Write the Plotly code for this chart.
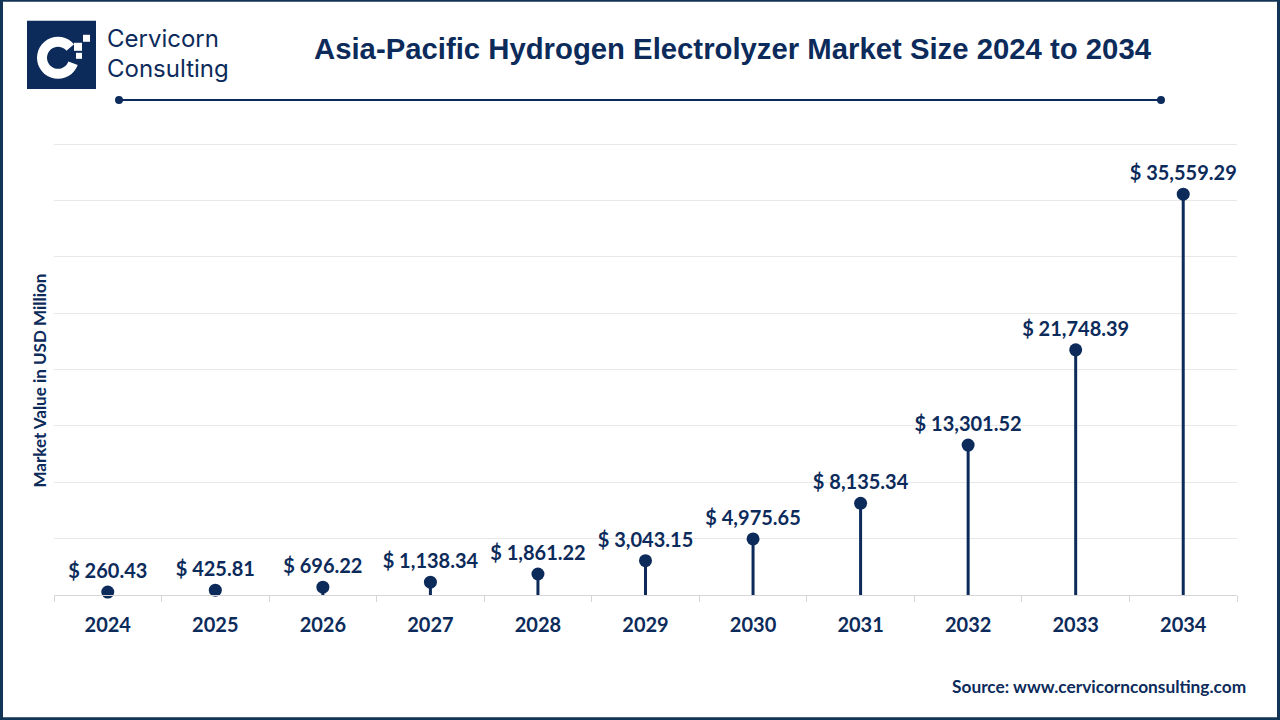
import math
import plotly.graph_objects as go

years = ["2024", "2025", "2026", "2027", "2028", "2029", "2030", "2031", "2032", "2033", "2034"]
values = [260.43, 425.81, 696.22, 1138.34, 1861.22, 3043.15, 4975.65, 8135.34, 13301.52, 21748.39, 35559.29]
labels = ["$ " + f"{v:,.2f}" for v in values]

NAVY = "#0c2b5b"
FONT = "Lato"

# plot area in pixels
L, R, T, B = 54, 1237, 144, 595


def px(x):
    return (x - L) / (R - L)


def py(y):
    return (B - y) / (B - T)


fig = go.Figure()

# stems
sx, sy = [], []
for y, v in zip(years, values):
    sx += [y, y, None]
    sy += [0, v, None]
fig.add_trace(go.Scatter(x=sx, y=sy, mode="lines", line=dict(color=NAVY, width=3),
                         hoverinfo="skip", showlegend=False))
# heads + labels
fig.add_trace(go.Scatter(x=years, y=values, mode="markers+text", text=labels,
                         textposition="top center",
                         textfont=dict(family=FONT, size=20, color=NAVY, weight="bold"),
                         marker=dict(color=NAVY, size=13), showlegend=False, cliponaxis=False))

fig.update_layout(
    width=1280, height=720,
    margin=dict(l=L, r=1280 - R, t=T - 1, b=720 - B, autoexpand=False),
    paper_bgcolor="white", plot_bgcolor="white",
    xaxis=dict(type="category", showline=True, linecolor="#d6d6d6", linewidth=1,
               ticks="outside", tickson="boundaries", ticklen=6, tickcolor="#d6d6d6",
               ticklabelstandoff=12,
               tickfont=dict(family=FONT, size=20, color=NAVY, weight="bold"),
               showgrid=False, range=[-0.5, 10.5], automargin=False),
    yaxis=dict(range=[0, 40100], tickvals=[5000, 10000, 15000, 20000, 25000, 30000, 35000, 40000],
               showticklabels=False, gridcolor="#e8e8e8",
               gridwidth=1, zeroline=False, automargin=False),
    shapes=[
        # outer border
        dict(type="rect", xref="paper", yref="paper", x0=px(1.5), x1=px(1278.5), y0=py(718.5), y1=py(1.5),
             line=dict(color="#123456", width=3)),
        # title underline
        dict(type="line", xref="paper", yref="paper", x0=px(119), x1=px(1161),
             y0=py(101), y1=py(101), line=dict(color=NAVY, width=2)),
        dict(type="circle", xref="paper", yref="paper",
             x0=px(115), x1=px(123), y0=py(105), y1=py(97),
             fillcolor=NAVY, line=dict(width=0)),
        dict(type="circle", xref="paper", yref="paper",
             x0=px(1157), x1=px(1165), y0=py(105), y1=py(97),
             fillcolor=NAVY, line=dict(width=0)),
        # logo square
        dict(type="rect", xref="paper", yref="paper", x0=px(28), x1=px(95), y0=py(89), y1=py(23),
             fillcolor=NAVY, line=dict(color=NAVY, width=2)),
    ],
    annotations=[
        dict(text="Asia-Pacific Hydrogen Electrolyzer Market Size 2024 to 2034",
             xref="paper", yref="paper", x=px(733), y=py(50),
             xanchor="center", yanchor="middle", showarrow=False,
             font=dict(family="Liberation Sans", size=29.3, color=NAVY, weight="bold")),
        dict(text="Cervicorn", xref="paper", yref="paper",
             x=px(105), y=py(40), xanchor="left", yanchor="middle",
             align="left", showarrow=False,
             font=dict(family="Inter", size=24, color=NAVY)),
        dict(text="Consulting", xref="paper", yref="paper",
             x=px(105), y=py(70), xanchor="left", yanchor="middle",
             align="left", showarrow=False,
             font=dict(family="Inter", size=24, color=NAVY)),
        dict(text="Market Value in USD Million", xref="paper", yref="paper",
             x=px(40), y=py(381), xanchor="center", yanchor="middle", textangle=-90,
             showarrow=False, font=dict(family=FONT, size=17, color=NAVY, weight="bold")),
        dict(text="Source: www.cervicornconsulting.com", xref="paper", yref="paper",
             x=px(1248), y=py(686), xanchor="right", yanchor="middle",
             showarrow=False, font=dict(family=FONT, size=17.3, color=NAVY, weight="bold")),
    ],
)

# logo "C" glyph
cx, cy, ro, ri = 58, 59, 21, 11
pts_o = [(cx + ro * math.cos(math.radians(a)), cy - ro * math.sin(math.radians(a))) for a in range(40, 341, 10)]
pts_i = [(cx + ri * math.cos(math.radians(a)), cy - ri * math.sin(math.radians(a))) for a in range(340, 39, -10)]
path = "M " + " L ".join(f"{px(x)},{py(y)}" for x, y in pts_o + pts_i) + " Z"
fig.add_shape(type="path", xref="paper", yref="paper", path=path, fillcolor="white", line=dict(width=0))
for (a, b, s) in [(74, 44, 8), (83, 36, 7), (76, 54, 6)]:
    fig.add_shape(type="rect", xref="paper", yref="paper", x0=px(a), x1=px(a + s), y0=py(b + s), y1=py(b),
                  fillcolor="white", line=dict(width=0))

fig.write_html("out.html", config={"displayModeBar": False},
               post_script="document.body.style.margin='0';document.body.style.overflow='hidden';")
